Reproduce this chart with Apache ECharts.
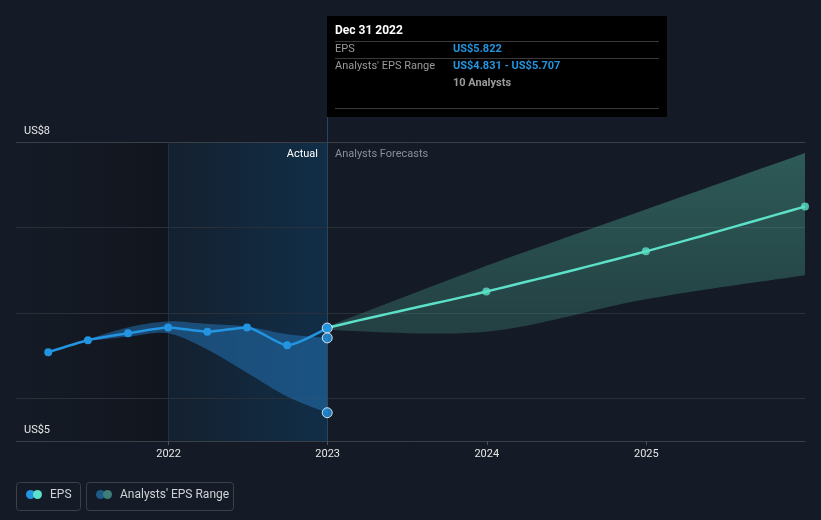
<!DOCTYPE html>
<html><head><meta charset="utf-8">
<script src="https://cdn.jsdelivr.net/npm/echarts@6/dist/echarts.min.js"></script>
<style>html,body{margin:0;padding:0;background:#151b26;}#c{width:821px;height:520px;}</style>
</head><body><div id="c"></div>
<script>
// ---- data ----
const actualDates = ['2021-03-31','2021-06-30','2021-09-30','2021-12-31','2022-03-31','2022-06-30','2022-09-30','2022-12-31'];
const actualEps = [5.54, 5.68, 5.76, 5.83, 5.78, 5.83, 5.62, 5.822];
const pastRangeDates = ['2021-06-30','2021-09-30','2021-12-31','2022-03-31','2022-06-30','2022-09-30','2022-12-31'];
const pastRangeLow  = [5.67, 5.72, 5.76, 5.57, 5.30, 5.02, 4.831];
const pastRangeHigh = [5.69, 5.83, 5.90, 5.87, 5.84, 5.75, 5.707];
const forecastDates = ['2022-12-31','2023-12-31','2024-12-31','2025-12-31'];
const forecastEps  = [5.822, 6.25, 6.72, 7.245];
const forecastLow  = [5.80, 5.78, 6.16, 6.44];
const forecastHigh = [5.84, 6.55, 7.21, 7.87];
const yearLabels = ['2022','2023','2024','2025'];
const gridValues = [5, 6, 7, 8];
const yLabelValues = [4.5, 8];
const analystsCount = 10;
const actualStart = '2022-01-01';
const xMinDate = '2021-01-16', xMaxDate = '2025-12-31';
const yMin = 4.5, yMax = 8;

const BLUE = '#2394df', TEAL = '#5ce0c8';
const font = 'Roboto, "Noto Sans", sans-serif';

const ts = s => { const p = s.split('-'); return new Date(+p[0], +p[1] - 1, +p[2]).getTime(); };
const zip = (d, v) => d.map((x, i) => [ts(x), v[i]]);
const yearTs = yearLabels.map(y => ts(y + '-01-01'));
const xMin = ts(xMinDate), xMax = ts(xMaxDate);
const SEG = 16;

// Catmull-Rom smoothing in pixel space (rendering only)
function spline(p) {
  if (p.length < 3) return p.slice();
  const out = [];
  for (let i = 0; i < p.length - 1; i++) {
    const p0 = p[Math.max(i - 1, 0)], p1 = p[i], p2 = p[i + 1], p3 = p[Math.min(i + 2, p.length - 1)];
    for (let k = 0; k < SEG; k++) {
      const t = k / SEG, t2 = t * t, t3 = t2 * t;
      const f = j => 0.5 * (2 * p1[j] + (-p0[j] + p2[j]) * t + (2 * p0[j] - 5 * p1[j] + 4 * p2[j] - p3[j]) * t2 + (-p0[j] + 3 * p1[j] - 3 * p2[j] + p3[j]) * t3);
      out.push([f(0), f(1)]);
    }
  }
  out.push(p[p.length - 1]);
  return out;
}
function bandSeries(dates, low, high, fill) {
  return {
    type: 'custom', z: 2, silent: true, clip: true,
    data: dates.map((d, i) => [ts(d), low[i], high[i]]),
    encode: {x: 0, y: [1, 2]},
    renderItem: (params, api) => {
      if (params.dataIndex !== 0) return null;
      const up = dates.map((d, i) => api.coord([ts(d), high[i]]));
      const lo = dates.map((d, i) => api.coord([ts(d), low[i]]));
      return {type: 'polygon', shape: {points: spline(up).concat(spline(lo).reverse())}, style: {fill: fill}};
    }
  };
}
const prevActual = [ts(actualDates[actualDates.length - 2]), actualEps[actualEps.length - 2]];

const chart = echarts.init(document.getElementById('c'), null, {renderer: 'canvas'});
chart.setOption({
  backgroundColor: '#151b26',
  animation: false,
  grid: {left: 16, right: 16, top: 142, bottom: 79},
  xAxis: {
    type: 'value', min: xMin, max: xMax,
    axisLine: {lineStyle: {color: '#3a3f48'}},
    axisTick: {show: true, customValues: yearTs, length: 4, lineStyle: {color: '#4a505a'}},
    axisLabel: {customValues: yearTs, color: '#e6e6e6', fontSize: 11, fontFamily: font, margin: 8,
      formatter: v => String(new Date(v).getFullYear())},
    splitLine: {show: false}
  },
  yAxis: {
    type: 'value', min: yMin, max: yMax,
    axisLine: {show: false}, axisTick: {show: false}, splitLine: {show: false},
    axisLabel: {customValues: yLabelValues, inside: true, margin: 8, verticalAlign: 'bottom',
      padding: [0, 0, 5, 0], color: '#e6e6e6', fontSize: 11, fontFamily: font,
      formatter: v => 'US$' + Math.round(v)}
  },
  series: [
    { // background regions & gridlines
      type: 'line', data: [], z: 0, silent: true,
      markArea: {silent: true, z: 0, data: [
        [{xAxis: xMin, yAxis: yMax, itemStyle: {color: {type: 'linear', x: 0, y: 0, x2: 1, y2: 0,
          colorStops: [{offset: 0, color: 'rgba(0,0,0,0)'}, {offset: 1, color: 'rgba(0,0,0,0.22)'}]}}},
         {xAxis: ts(actualStart), yAxis: yMin}],
        [{xAxis: ts(actualStart), yAxis: yMax, itemStyle: {color: {type: 'linear', x: 0, y: 0, x2: 1, y2: 0,
          colorStops: [{offset: 0, color: 'rgba(10,80,130,0.10)'}, {offset: 1, color: 'rgba(10,80,130,0.36)'}]}}},
         {xAxis: ts(actualDates[actualDates.length - 1]), yAxis: yMin}]
      ]},
      markLine: {silent: true, z: 1, symbol: 'none', label: {show: false},
        data: gridValues.map(v => ({yAxis: v, lineStyle: {color: v === yMax ? '#3a3f48' : '#2a303a', width: 1, type: 'solid'}}))
          .concat([{xAxis: ts(actualStart), lineStyle: {color: '#1a3247', width: 1, type: 'solid'}}])}
    },
    bandSeries(pastRangeDates, pastRangeLow, pastRangeHigh, 'rgba(35,120,190,0.5)'),
    bandSeries(forecastDates, forecastLow, forecastHigh, {type: 'linear', x: 0, y: 0, x2: 0, y2: 1,
      colorStops: [{offset: 0, color: 'rgba(76,170,150,0.44)'}, {offset: 1, color: 'rgba(76,170,150,0.26)'}]}),
    { name: 'EPS forecast line', type: 'custom', z: 3, silent: true, clip: true,
      data: zip(forecastDates, forecastEps), encode: {x: 0, y: 1},
      renderItem: (params, api) => {
        if (params.dataIndex !== 0) return null;
        const pts = [prevActual].concat(zip(forecastDates, forecastEps)).map(p => api.coord(p));
        return {type: 'polyline', shape: {points: spline(pts).slice(SEG)},
          style: {stroke: TEAL, lineWidth: 2.5, fill: null, lineJoin: 'round'}};
      } },
    { name: 'EPS forecast', type: 'scatter', data: zip(forecastDates, forecastEps).slice(1), z: 3,
      symbol: 'circle', symbolSize: 8, itemStyle: {color: TEAL} },
    { name: 'EPS', type: 'line', data: zip(actualDates, actualEps), z: 4,
      smooth: 0.2, symbol: 'circle', symbolSize: 8,
      lineStyle: {color: BLUE, width: 2.5}, itemStyle: {color: BLUE} },
    { name: 'ends', type: 'scatter', z: 5,
      data: [
        [ts(actualDates[actualDates.length - 1]), actualEps[actualEps.length - 1]],
        [ts(pastRangeDates[pastRangeDates.length - 1]), pastRangeHigh[pastRangeHigh.length - 1]],
        [ts(pastRangeDates[pastRangeDates.length - 1]), pastRangeLow[pastRangeLow.length - 1]]
      ],
      symbolSize: 10, itemStyle: {color: BLUE, borderColor: '#ffffff', borderWidth: 1} }
  ]
});

// ---- overlay: divider line, labels, tooltip box, legend ----
const lastDate = actualDates[actualDates.length - 1];
const pTop = chart.convertToPixel({gridIndex: 0}, [ts(lastDate), yMax]);
const pBot = chart.convertToPixel({gridIndex: 0}, [ts(lastDate), yMin]);
const dx = Math.round(pTop[0]);
const months = ['Jan','Feb','Mar','Apr','May','Jun','Jul','Aug','Sep','Oct','Nov','Dec'];
const ld = lastDate.split('-');
const title = months[+ld[1] - 1] + ' ' + (+ld[2]) + ' ' + ld[0];
const epsTxt = 'US$' + actualEps[actualEps.length - 1].toFixed(3);
const rangeTxt = 'US$' + pastRangeLow[pastRangeLow.length - 1].toFixed(3) + ' - US$' + pastRangeHigh[pastRangeHigh.length - 1].toFixed(3);
const tbTop = 16, tbW = 340, tbH = 101;
const txt = (x, y, s, fill, extra) => ({type: 'text', x: x, y: y,
  style: Object.assign({text: s, fill: fill, font: '11px ' + font, verticalAlign: 'middle'}, extra || {})});
const sep = (y) => ({type: 'line', shape: {x1: 8, y1: y, x2: 332, y2: y}, style: {stroke: '#3a3a3a', lineWidth: 1}});

chart.setOption({graphic: [
  {type: 'line', shape: {x1: dx + 0.5, y1: tbTop + tbH, x2: dx + 0.5, y2: pBot[1]}, style: {stroke: '#264560', lineWidth: 1}, z: 1},
  txt(dx - 9, pTop[1] + 12, 'Actual', '#ffffff', {align: 'right'}),
  txt(dx + 8, pTop[1] + 12, 'Analysts Forecasts', '#8a8f98', {align: 'left'}),
  {type: 'group', x: dx, y: tbTop, z: 20, children: [
    {type: 'rect', shape: {x: 0, y: 0, width: tbW, height: tbH}, style: {fill: '#000000'}},
    txt(8, 15, title, '#ffffff', {font: 'bold 12px ' + font}),
    sep(25.5),
    txt(8, 33, 'EPS', '#9a9a9a'),
    txt(126, 33, epsTxt, BLUE, {font: 'bold 11px ' + font}),
    sep(42.5),
    txt(8, 50, "Analysts' EPS Range", '#9a9a9a'),
    txt(126, 50, rangeTxt, BLUE, {font: 'bold 11px ' + font}),
    txt(126, 67, analystsCount + ' Analysts', '#9a9a9a', {font: 'bold 11px ' + font}),
    sep(92.5)
  ]},
  {type: 'group', x: 0, y: 0, children: [
    {type: 'rect', shape: {x: 16.5, y: 482.5, width: 64, height: 28, r: 3}, style: {fill: 'none', stroke: '#3b414b', lineWidth: 1}},
    {type: 'circle', shape: {cx: 30.5, cy: 494.5, r: 4.5}, style: {fill: BLUE}},
    {type: 'circle', shape: {cx: 37.5, cy: 494.5, r: 4.5}, style: {fill: TEAL}},
    txt(50, 495, 'EPS', '#cfd2d6', {font: '12px ' + font}),
    {type: 'rect', shape: {x: 86.5, y: 482.5, width: 147, height: 28, r: 3}, style: {fill: 'none', stroke: '#3b414b', lineWidth: 1}},
    {type: 'circle', shape: {cx: 100.5, cy: 494.5, r: 4.5}, style: {fill: '#1d5a85'}},
    {type: 'circle', shape: {cx: 107.5, cy: 494.5, r: 4.5}, style: {fill: '#3d7f78'}},
    txt(120, 495, "Analysts' EPS Range", '#cfd2d6', {font: '12px ' + font})
  ]}
]});
</script>
</body></html>
